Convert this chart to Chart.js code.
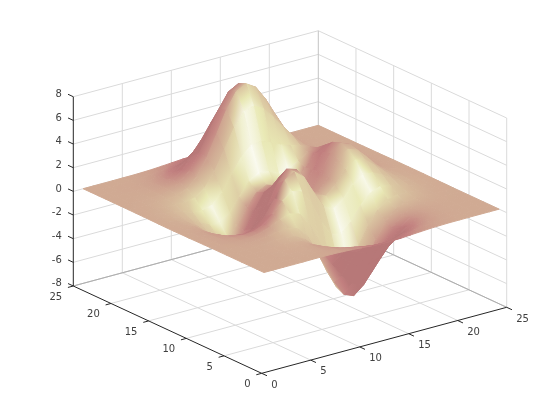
<!DOCTYPE html>
<html>
<head>
<meta charset="utf-8">
<style>html,body{margin:0;padding:0;background:#fff}canvas{display:block}</style>
<script src="https://cdn.jsdelivr.net/npm/chart.js@4"></script>
</head>
<body>
<canvas id="c" width="560" height="420"></canvas>
<script>
const xTicks = [0, 5, 10, 15, 20, 25];
const yTicks = [0, 5, 10, 15, 20, 25];
const zTicks = [-8, -6, -4, -2, 0, 2, 4, 6, 8];
// surface heights, one row per y = 1..25, one column per x = 1..25
const zRows = [
[0,0,0,0,0,.01,.01,0,-.03,-.07,-.13,-.19,-.24,-.24,-.22,-.16,-.11,-.06,-.03,-.01,-.01,0,0,0,0],
[0,0,0,0,.01,.01,0,-.03,-.1,-.22,-.39,-.56,-.68,-.7,-.61,-.46,-.3,-.17,-.08,-.03,-.01,0,0,0,0],
[0,0,0,.01,.01,.02,0,-.07,-.23,-.52,-.91,-1.31,-1.57,-1.6,-1.4,-1.06,-.69,-.38,-.18,-.08,-.03,-.01,0,0,0],
[0,0,.01,.01,.03,.04,.01,-.12,-.43,-.98,-1.73,-2.49,-3,-3.08,-2.71,-2.04,-1.32,-.73,-.34,-.14,-.05,-.01,0,0,0],
[0,0,.01,.02,.05,.07,.05,-.13,-.59,-1.45,-2.64,-3.88,-4.76,-4.92,-4.35,-3.27,-2.1,-1.15,-.53,-.2,-.06,-.01,0,0,0],
[0,0,.01,.03,.07,.13,.15,.02,-.46,-1.48,-3.01,-4.7,-5.98,-6.33,-5.64,-4.25,-2.69,-1.42,-.61,-.2,-.05,0,.01,0,0],
[0,0,.01,.03,.08,.19,.33,.4,.17,-.66,-2.16,-4.04,-5.65,-6.29,-5.74,-4.3,-2.63,-1.27,-.44,-.07,.04,.05,.03,.01,0],
[0,-.01,-.01,-.01,.03,.16,.44,.83,1.1,.88,-.15,-1.86,-3.62,-4.61,-4.41,-3.23,-1.74,-.56,.08,.27,.23,.13,.06,.02,.01],
[-.01,-.03,-.06,-.1,-.13,-.04,.3,.99,1.86,2.46,2.23,.99,-.73,-2.02,-2.22,-1.43,-.27,.58,.88,.77,.5,.26,.11,.04,.01],
[-.02,-.05,-.12,-.25,-.42,-.51,-.28,.49,1.79,3.09,3.63,2.94,1.4,0,-.41,.2,1.18,1.79,1.77,1.35,.82,.41,.17,.07,.02],
[-.03,-.08,-.2,-.44,-.8,-1.16,-1.21,-.6,.81,2.49,3.55,3.3,2,.7,.39,1.14,2.2,2.77,2.55,1.87,1.12,.56,.24,.09,.03],
[-.03,-.1,-.27,-.6,-1.14,-1.77,-2.15,-1.84,-.56,1.23,2.56,2.62,1.59,.53,.48,1.5,2.75,3.38,3.08,2.24,1.34,.66,.28,.1,.03],
[-.04,-.11,-.3,-.69,-1.33,-2.14,-2.77,-2.72,-1.64,.07,1.48,1.75,.98,.19,.38,1.57,2.93,3.59,3.26,2.37,1.41,.7,.3,.11,.03],
[-.04,-.11,-.29,-.67,-1.32,-2.15,-2.86,-2.98,-2.14,-.64,.69,1.06,.52,-.03,.28,1.47,2.76,3.37,3.05,2.21,1.32,.65,.28,.1,.03],
[-.03,-.09,-.25,-.57,-1.12,-1.85,-2.49,-2.64,-1.99,-.76,.39,.79,.46,.09,.38,1.35,2.38,2.84,2.55,1.84,1.09,.54,.23,.08,.03],
[-.02,-.07,-.18,-.42,-.81,-1.33,-1.76,-1.78,-1.16,-.05,1.04,1.55,1.42,1.12,1.17,1.65,2.17,2.33,1.99,1.4,.82,.4,.17,.06,.02],
[-.01,-.04,-.11,-.25,-.48,-.74,-.86,-.6,.23,1.51,2.8,3.59,3.69,3.34,2.94,2.67,2.43,2.09,1.58,1.03,.58,.28,.11,.04,.01],
[-.01,-.02,-.06,-.12,-.2,-.22,-.05,.55,1.7,3.3,4.93,6.08,6.4,5.95,5.03,3.98,2.98,2.1,1.35,.79,.41,.19,.07,.03,.01],
[0,-.01,-.02,-.03,-.01,.11,.48,1.27,2.6,4.36,6.17,7.51,7.96,7.45,6.23,4.7,3.24,2.05,1.18,.62,.29,.12,.05,.02,0],
[0,0,0,.01,.07,.24,.64,1.43,2.68,4.29,5.96,7.22,7.68,7.19,5.99,4.45,2.96,1.78,.96,.47,.21,.08,.03,.01,0],
[0,0,.01,.02,.08,.23,.55,1.16,2.1,3.31,4.56,5.5,5.86,5.49,4.57,3.37,2.21,1.3,.67,.32,.13,.05,.02,.01,0],
[0,0,.01,.02,.06,.15,.36,.74,1.32,2.06,2.83,3.41,3.63,3.41,2.83,2.08,1.35,.79,.4,.19,.08,.03,.01,0,0],
[0,0,0,.01,.03,.08,.19,.39,.69,1.07,1.46,1.77,1.88,1.77,1.46,1.07,.7,.4,.2,.09,.04,.01,0,0,0],
[0,0,0,0,.01,.04,.09,.17,.3,.47,.64,.77,.82,.77,.64,.47,.3,.17,.09,.04,.02,.01,0,0,0],
[0,0,0,0,.01,.01,.03,.06,.11,.17,.23,.27,.29,.27,.23,.17,.11,.06,.03,.01,.01,0,0,0,0]
];

// orthographic view of the data box onto the page scales
const project = (x, y, z) => ({
  x: 261.7 + 9.8 * x - 7.536 * y,
  y: 373.3 - 2.64 * x - 3.492 * y - 11.83 * (z + 8)
});

// MATLAB-like "pink" colormap
const clamp01 = v => Math.max(0, Math.min(1, v));
function pink(t) {
  t = clamp01(t);
  const hr = clamp01(t / .375), hg = clamp01((t - .375) / .375), hb = clamp01((t - .75) / .25);
  const f = h => Math.round(255 * Math.sqrt((2 * t + h) / 3));
  return `rgb(${f(hr)},${f(hg)},${f(hb)})`;
}

// surfl-style reflectance per vertex
const S = [.113, -.859, .5], V = [-.527, -.687, .5];
const SV = S[0]*V[0] + S[1]*V[1] + S[2]*V[2];
const N = zRows.length, M = zRows[0].length;
function shade(i, j) {
  const zAt = (a, b) => zRows[Math.max(0, Math.min(N - 1, b))][Math.max(0, Math.min(M - 1, a))];
  const dx = (zAt(i + 1, j) - zAt(i - 1, j)) / (i > 0 && i < M - 1 ? 2 : 1);
  const dy = (zAt(i, j + 1) - zAt(i, j - 1)) / (j > 0 && j < N - 1 ? 2 : 1);
  const L = Math.hypot(dx, dy, 1);
  const n = [-dx / L, -dy / L, 1 / L];
  const ns = n[0]*S[0] + n[1]*S[1] + n[2]*S[2];
  const nv = n[0]*V[0] + n[1]*V[1] + n[2]*V[2];
  const diff = Math.max(0, ns);
  const spec = Math.max(0, 2 * ns * nv - SV);
  return .33 + .34 * diff + .36 * Math.pow(spec, 5);
}
const tone = zRows.map((r, j) => r.map((_, i) => shade(i, j)));

const canvas = document.getElementById('c');
const ctx = canvas.getContext('2d');

function quadPaint(i, j, pts) {
  const [a, b, c, d] = pts; // (i,j) (i+1,j) (i+1,j+1) (i,j+1)
  const ta = tone[j][i], tb = tone[j][i+1], tc = tone[j+1][i+1], td = tone[j+1][i];
  const ex = [(b.x + c.x - a.x - d.x) / 2, (b.y + c.y - a.y - d.y) / 2];
  const ey = [(c.x + d.x - a.x - b.x) / 2, (c.y + d.y - a.y - b.y) / 2];
  const dtx = (tb + tc - ta - td) / 2, dty = (tc + td - ta - tb) / 2;
  const tm = (ta + tb + tc + td) / 4;
  const mx = (a.x + b.x + c.x + d.x) / 4, my = (a.y + b.y + c.y + d.y) / 4;
  const det = ex[0] * ey[1] - ex[1] * ey[0];
  if (Math.abs(det) < 1) return pink(tm);
  const gx = (dtx * ey[1] - dty * ex[1]) / det;
  const gy = (dty * ex[0] - dtx * ey[0]) / det;
  const g = Math.hypot(gx, gy);
  if (g < 1e-5) return pink(tm);
  let len = 0;
  pts.forEach(p => { len = Math.max(len, Math.hypot(p.x - mx, p.y - my)); });
  const ux = gx / g, uy = gy / g;
  const grad = ctx.createLinearGradient(mx - ux * len, my - uy * len, mx + ux * len, my + uy * len);
  const lo = Math.min(ta, tb, tc, td), hi = Math.max(ta, tb, tc, td);
  const at = s => Math.max(lo, Math.min(hi, tm + g * len * s));
  [-1, -.5, 0, .5, 1].forEach(s => grad.addColorStop((s + 1) / 2, pink(at(s))));
  return grad;
}

const GRID = 'rgb(218,218,218)', EDGE = 'rgb(172,172,172)', AXIS = 'rgb(38,38,38)', TEXT = 'rgb(64,64,64)';
const lineSet = (a, b, color) => ({
  data: [a, b], showLine: true, pointRadius: 0, borderWidth: 1, borderColor: color, fill: false, tension: 0
});

const back = [];
xTicks.forEach(t => {
  if (t > 0 && t < 25) back.push(lineSet(project(t, 25, -8), project(t, 25, 8), GRID));
  if (t > 0) back.push(lineSet(project(t, 0, -8), project(t, 25, -8), GRID));
});
yTicks.forEach(t => {
  if (t < 25) back.push(lineSet(project(25, t, -8), project(25, t, 8), GRID));
  if (t > 0) back.push(lineSet(project(0, t, -8), project(25, t, -8), GRID));
});
zTicks.forEach(t => {
  back.push(lineSet(project(0, 25, t), project(25, 25, t), GRID));
  back.push(lineSet(project(25, 25, t), project(25, 0, t), GRID));
});
back.push(lineSet(project(0, 25, -8), project(25, 25, -8), EDGE));
back.push(lineSet(project(25, 25, -8), project(25, 0, -8), EDGE));
back.push(lineSet(project(25, 25, -8), project(25, 25, 8), 'rgb(195,195,195)'));

const surface = [];
for (let i = M - 2; i >= 0; i--) {
  for (let j = N - 2; j >= 0; j--) {
    const pts = [
      project(i + 1, j + 1, zRows[j][i]),
      project(i + 2, j + 1, zRows[j][i + 1]),
      project(i + 2, j + 2, zRows[j + 1][i + 1]),
      project(i + 1, j + 2, zRows[j + 1][i])
    ];
    const paint = quadPaint(i, j, pts);
    surface.push({
      data: [...pts, pts[0]], showLine: true, pointRadius: 0, tension: 0,
      borderWidth: 1, borderColor: paint, backgroundColor: paint, fill: 'shape'
    });
  }
}

const front = [
  lineSet(project(0, 25, -8), project(0, 25, 8), AXIS),
  lineSet(project(0, 0, -8), project(0, 25, -8), AXIS),
  lineSet(project(0, 0, -8), project(25, 0, -8), AXIS)
];
zTicks.forEach(t => front.push(lineSet(project(0, 25, t), project(0, 25.7, t), AXIS)));
xTicks.forEach(t => front.push(lineSet(project(t, 0, -8), project(t, -.7, -8), AXIS)));
yTicks.forEach(t => front.push(lineSet(project(0, t, -8), project(-.55, t, -8), AXIS)));

const tickText = {
  id: 'tickText',
  afterDraw(chart) {
    const c = chart.ctx, sx = chart.scales.x, sy = chart.scales.y;
    c.save();
    c.font = '10px "DejaVu Sans"';
    c.fillStyle = TEXT;
    c.textBaseline = 'middle';
    const put = (label, p, dx, dy, align) => {
      c.textAlign = align;
      c.fillText(label, sx.getPixelForValue(p.x) + dx, sy.getPixelForValue(p.y) + dy);
    };
    zTicks.forEach(t => put(String(t), project(0, 25, t), -11.5, -2.2, 'right'));
    xTicks.forEach(t => put(String(t), project(t, 0, -8), 9.5, 11.8, 'left'));
    yTicks.forEach(t => put(String(t), project(0, t, -8), -11.2, 11.4, 'right'));
    c.restore();
  }
};

// Chart.js paints the last dataset first
new Chart(canvas, {
  type: 'scatter',
  data: { datasets: [...front, ...surface.reverse(), ...back.reverse()] },
  plugins: [tickText],
  options: {
    responsive: false,
    animation: false,
    events: [],
    layout: { padding: 0 },
    plugins: { legend: { display: false }, tooltip: { enabled: false }, filler: { drawTime: 'beforeDatasetDraw', propagate: false } },
    scales: {
      x: { type: 'linear', min: 0, max: 560, display: false },
      y: { type: 'linear', min: 0, max: 420, reverse: true, display: false }
    }
  }
});
</script>
</body>
</html>
